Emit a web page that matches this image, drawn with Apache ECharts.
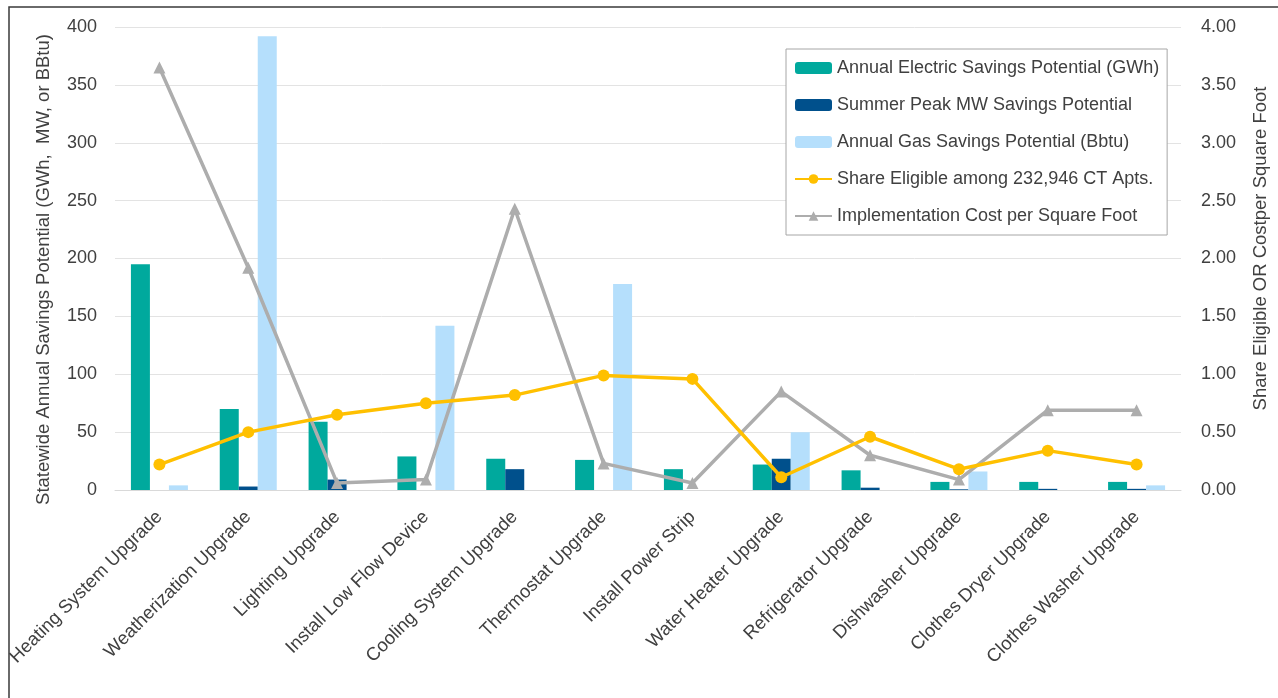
<!DOCTYPE html>
<html>
<head>
<meta charset="utf-8">
<script src="https://cdn.jsdelivr.net/npm/echarts@6/dist/echarts.min.js"></script>
<style>
html,body{margin:0;padding:0;background:#fff;}
#chart{width:1278px;height:698px;}
</style>
</head>
<body>
<div id="chart"></div>
<script>
const categories = ['Heating System Upgrade','Weatherization Upgrade','Lighting Upgrade','Install Low Flow Device','Cooling System Upgrade','Thermostat Upgrade','Install Power Strip','Water Heater Upgrade','Refrigerator Upgrade','Dishwasher Upgrade','Clothes Dryer Upgrade','Clothes Washer Upgrade'];
const electricGWh = [195, 70, 59, 29, 27, 26, 18, 22, 17, 7, 7, 7];
const peakMW = [0, 3, 9, 0, 18, 0, 0, 27, 2, 0.6, 1, 1];
const gasBbtu = [4, 392, 0, 142, 0, 178, 0, 50, 0, 16, 0, 4];
const shareEligible = [0.22, 0.50, 0.65, 0.75, 0.82, 0.99, 0.96, 0.11, 0.46, 0.18, 0.34, 0.22];
const costPerSqFt = [3.65, 1.92, 0.06, 0.09, 2.43, 0.23, 0.06, 0.85, 0.30, 0.09, 0.69, 0.69];
const leftTicks = [0, 50, 100, 150, 200, 250, 300, 350, 400];
const rightTicks = [0, 0.5, 1, 1.5, 2, 2.5, 3, 3.5, 4];

const font = "'Liberation Sans', Arial, sans-serif";
const txt = '#404040';

const chart = echarts.init(document.getElementById('chart'));
chart.setOption({
  animation: false,
  backgroundColor: '#fff',
  graphic: [{
    type: 'polyline',
    shape: { points: [[9, 700], [9, 7], [1280, 7]] },
    style: { stroke: '#3a3a3a', lineWidth: 1.5, fill: null },
    silent: true
  }],
  grid: { left: 115, right: 95, top: 27, bottom: 208 },
  legend: {
    orient: 'vertical',
    left: 786, top: 49,
    padding: [9, 8, 9, 8],
    backgroundColor: '#fff',
    borderColor: '#a6a6a6',
    borderWidth: 1,
    itemWidth: 37, itemHeight: 12,
    itemGap: 17,
    textStyle: { fontFamily: font, fontSize: 18, color: txt, lineHeight: 20 },
    data: ['Annual Electric Savings Potential (GWh)','Summer Peak MW Savings Potential','Annual Gas Savings Potential (Bbtu)','Share Eligible among 232,946 CT Apts.','Implementation Cost per Square Foot']
  },
  xAxis: {
    type: 'category',
    data: categories,
    axisLine: { lineStyle: { color: '#d9d9d9', width: 1 } },
    axisTick: { show: false },
    axisLabel: { interval: 0, rotate: 45, margin: 24, fontFamily: font, fontSize: 18.5, color: txt }
  },
  yAxis: [{
    type: 'value', min: 0, max: 400, interval: 50,
    name: 'Statewide Annual Savings Potential (GWh,  MW, or BBtu)',
    nameLocation: 'middle', nameGap: 62,
    nameTextStyle: { fontFamily: font, fontSize: 18.5, color: txt, padding: [0, 22, 0, 0] },
    axisLabel: { margin: 18, fontFamily: font, fontSize: 18, color: txt,
      formatter: v => leftTicks.includes(v) ? String(v) : '' },
    splitLine: { lineStyle: { color: '#e3e3e3', width: 1 } },
    axisLine: { show: false }, axisTick: { show: false }
  }, {
    type: 'value', min: 0, max: 4, interval: 0.5, position: 'right',
    name: 'Share Eligible OR Costper Square Foot',
    nameLocation: 'middle', nameGap: 70,
    nameTextStyle: { fontFamily: font, fontSize: 18.5, color: txt, padding: [0, 0, 0, 20] },
    axisLabel: { margin: 20, fontFamily: font, fontSize: 18, color: txt,
      formatter: v => rightTicks.includes(v) ? v.toFixed(2) : '' },
    splitLine: { show: false },
    axisLine: { show: false }, axisTick: { show: false }
  }],
  series: [{
    name: 'Annual Electric Savings Potential (GWh)', type: 'bar', data: electricGWh,
    barWidth: 19, barGap: '0%', itemStyle: { color: '#00A99D' }
  }, {
    name: 'Summer Peak MW Savings Potential', type: 'bar', data: peakMW,
    barWidth: 19, barGap: '0%', itemStyle: { color: '#00508C' }
  }, {
    name: 'Annual Gas Savings Potential (Bbtu)', type: 'bar', data: gasBbtu,
    barWidth: 19, barGap: '0%', itemStyle: { color: '#B5DFFC' }
  }, {
    name: 'Share Eligible among 232,946 CT Apts.', type: 'line', yAxisIndex: 1, data: shareEligible,
    symbol: 'circle', symbolSize: 12, lineStyle: { color: '#FFC000', width: 3.5 },
    itemStyle: { color: '#FFC000' }, z: 4
  }, {
    name: 'Implementation Cost per Square Foot', type: 'line', yAxisIndex: 1, data: costPerSqFt,
    symbol: 'triangle', symbolSize: 12, lineStyle: { color: '#ADADAD', width: 3.5 },
    itemStyle: { color: '#ADADAD' }, z: 3
  }]
});
</script>
</body>
</html>
